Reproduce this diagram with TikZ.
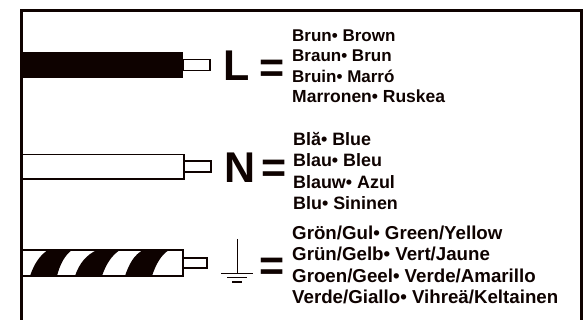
\documentclass[tikz,border=0pt]{standalone}
\usepackage{fontspec}
\setmainfont{Liberation Sans}
\usepackage{xcolor}
\definecolor{inkblack}{HTML}{0E0200}
\tikzset{
    label line/.style={anchor=base west,inner sep=0pt,text=inkblack,font=\fontsize{#1}{#1}\selectfont\bfseries},
    big letter/.style={anchor=base west,inner sep=0pt,text=inkblack,font=\fontsize{43}{43}\selectfont\bfseries},
    wire/.style={draw=inkblack,line width=1.2pt},
    stripe/.style={fill=inkblack,draw=none}
}
\begin{document}
\begin{tikzpicture}[x=1pt,y=-1pt]
    \useasboundingbox (0,0) rectangle (583,320);
    % Frame
    \draw[inkblack,line width=3pt] (21,320) -- (21,10.5) -- (581.5,10.5) -- (581.5,320);

    % Live wire
    \fill[inkblack] (21,52.5) rectangle (183,78);
    \draw[wire] (183,59.5) rectangle (210,70.5);
    \node[big letter] (L) at (223,81) {L};
    \node[big letter] (Leq) at (259,83) {=};

    % Neutral wire
    \draw[wire] (21,154.5) -- (184,154.5) -- (184,179) -- (21,179);
    \draw[wire] (184,161) rectangle (211,172);
    \node[big letter] (N) at (224,183) {N};
    \node[big letter] (Neq) at (261,183) {=};

    % Earth wire
    \draw[wire] (21,250) -- (183,250) -- (183,276) -- (21,276);
    \draw[wire] (183,258) rectangle (207,268);
    \fill[stripe] (30,276) .. controls (34,264) and (40,255) .. (48,250) -- (72,250) .. controls (65,255) and (60,264) .. (57,276) -- cycle;
    \fill[stripe] (75,276) .. controls (79,264) and (86,255) .. (97,250) -- (120,250) .. controls (112,255) and (106,264) .. (102,276) -- cycle;
    \fill[stripe] (125,276) .. controls (129,264) and (134,255) .. (143,250) -- (169,250) .. controls (161,255) and (156,264) .. (152,276) -- cycle;

    % Earth symbol
    \coordinate (G) at (237,239);
    \coordinate (G1) at (237,273.5);
    \draw[inkblack,line width=1pt] (G) -- (G1);
    \draw[inkblack,line width=1pt] (221,273.5) -- (253,273.5);
    \draw[inkblack,line width=1pt] (227,277.5) -- (247,277.5);
    \draw[inkblack,line width=1.2pt] (232,282) -- (242,282);
    \node[big letter] (Geq) at (259,280.5) {=};

    % Brown
    \node[label line=17] (b1) at (292,42) {Brun• Brown};
    \node[label line=17] (b2) at (292,62) {Braun• Brun};
    \node[label line=17] (b3) at (292,83) {Bruin• Marró};
    \node[label line=17.5] (b4) at (292,103) {Marronen• Ruskea};

    % Blue
    \node[label line=17.9] (n1) at (293,146) {Blă• Blue};
    \node[label line=17.9] (n2) at (293,167) {Blau• Bleu};
    \node[label line=17.9] (n3) at (293,189) {Blauw• Azul};
    \node[label line=17.9] (n4) at (293,210) {Blu• Sininen};

    % Green/yellow
    \node[label line=18.7] (g1) at (292,240) {Grön/Gul• Green/Yellow};
    \node[label line=18.7] (g2) at (292,261) {Grün/Gelb• Vert/Jaune};
    \node[label line=18.7] (g3) at (292,282) {Groen/Geel• Verde/Amarillo};
    \node[label line=18.7] (g4) at (292,303) {Verde/Giallo• Vihreä/Keltainen};
\end{tikzpicture}
\end{document}
